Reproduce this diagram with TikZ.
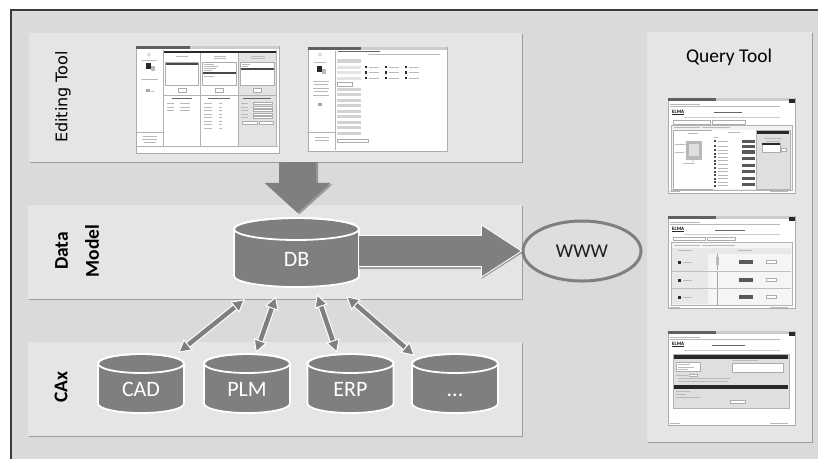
\documentclass[tikz,border=0pt]{standalone}
\usepackage{fontspec}
\setmainfont{Carlito}
\newfontfamily\verdfont{DejaVu Sans}
\usetikzlibrary{arrows.meta,calc,shadows,shapes.geometric}
\definecolor{bgc}{RGB}{218,218,218}
\definecolor{panelc}{RGB}{229,229,229}
\definecolor{framec}{RGB}{60,60,60}
\definecolor{cylc}{RGB}{127,127,127}
\definecolor{darkc}{RGB}{40,40,40}
\definecolor{wwwtext}{RGB}{30,30,30}
\tikzset{
 panel/.style={fill=panelc, inner sep=0pt, anchor=north west,
   drop shadow={shadow xshift=1.2pt, shadow yshift=-1.2pt, fill=black, opacity=0.28}},
 cylbody/.style={fill=cylc},
 cylline/.style={draw=white, line width=1.8pt},
 cylnode/.style={inner sep=0pt, draw=none},
 cyltext/.style={text=white, font=\fontsize{22}{26}\selectfont, text height=14pt, text depth=0pt, inner sep=0pt},
 biarrow/.style={draw=cylc, line width=4.4pt,
   {Triangle[width=14pt,length=13pt,color=white,fill=cylc,line width=1pt]}-{Triangle[width=14pt,length=13pt,color=white,fill=cylc,line width=1pt]}},
 biunder/.style={draw=white, line width=6.6pt, shorten <=11pt, shorten >=11pt},
 bigarrow/.style={fill=cylc},
 bigshadow/.style={fill=black, opacity=0.3},
 txl/.style={draw=gray!55, line width=0.7pt},
 txd/.style={draw=gray!80!black, line width=0.8pt},
 winb/.style={fill=white, draw=gray!65, line width=0.5pt},
 thin/.style={draw=gray!60, line width=0.4pt},
 sidelbl/.style={rotate=90, inner sep=0pt},
}
% name, cx, cy, w, h, ry, text
\newcommand\cyl[7]{%
 \pgfmathsetmacro\cxa{#2-#4/2}\pgfmathsetmacro\cxb{#2+#4/2}%
 \pgfmathsetmacro\cyt{#3-#5/2+#6}\pgfmathsetmacro\cyb{#3+#5/2-#6}%
 \pgfmathsetmacro\crx{#4/2}\pgfmathsetmacro\csh{-0.6*#6}%
 \path[cylbody,cylline] (\cxa,\cyt) -- (\cxa,\cyb)
   arc[start angle=180,end angle=360,x radius=\crx pt,y radius=#6pt]
   -- (\cxb,\cyt) arc[start angle=0,end angle=180,x radius=\crx pt,y radius=#6pt] -- cycle;
 \draw[cylline] (#2,\cyt) ellipse[x radius=\crx pt,y radius=#6pt];
 \node[cylnode, minimum width=#4pt, minimum height=#5pt,
   label={[cyltext, yshift=\csh pt]center:#7}] (#1) at (#2,#3) {};
}
% window frame with title bar
\newcommand\win[4]{%
 \draw[winb] (#1,#2) rectangle (#3,#4);
 \pgfmathsetmacro\wm{#1+(#3-#1)*0.38}%
 \fill[gray!75!black] ({#1+0.4},{#2+0.4}) rectangle (\wm,{#2+3});
 \fill[gray!40] (\wm,{#2+0.4}) rectangle ({#3-0.4},{#2+3});
}
\begin{document}
\begin{tikzpicture}[x=1pt,y=-1pt]
\useasboundingbox (0,0) rectangle (818,459);
\fill[white] (0,0) rectangle (818,459);
\fill[bgc] (11,10) rectangle (818,459);
\draw[framec, line width=1.5pt] (11,459) -- (11,10) -- (818,10);

% panels
\node[panel, minimum width=493pt, minimum height=129pt] (editp) at (29,33) {};
\node[panel, minimum width=494pt, minimum height=94pt] (datap) at (28,205) {};
\node[panel, minimum width=494pt, minimum height=94pt] (caxp) at (28,342) {};
\node[panel, minimum width=165pt, minimum height=410pt] (queryp) at (647,32) {};

% labels
\node[sidelbl, font=\verdfont\fontsize{16}{19}\selectfont] (edlbl) at (63,97) {Editing Tool};
\node[sidelbl, align=center, font=\bfseries\fontsize{19.5}{31}\selectfont] (dmlbl) at (77,251) {Data\\Model};
\node[sidelbl, font=\bfseries\fontsize{19.5}{23}\selectfont] (caxlbl) at (61,387) {CAx};
\node[font=\fontsize{19.5}{23}\selectfont, inner sep=0pt] (qlbl) at (729,57) {Query Tool};

% ---------- editing screenshot 1
\win{136}{46}{279}{153}
\fill[darkc] (163,50.5) rectangle (276,53);
\fill[gray!22] (238,53) rectangle (276,146);
\draw[thin] (163,50) -- (163,146) (200,53) -- (200,146) (238,53) -- (238,146)
  (276,50) -- (276,146) (137,146) -- (278,146) (163,95) -- (276,95) (137,132) -- (163,132);
\draw[txl] (176,56) -- (188,56) (214,56) -- (226,56) (214,58.5) -- (226,58.5)
  (251,56) -- (265,56) (251,58.5) -- (265,58.5);
\draw[winb] (165,62) rectangle (198,85) (202,62) rectangle (236,85) (240,62) rectangle (274,85);
\fill[darkc!85] (165.5,62.6) rectangle (197.5,64.6);
\fill[darkc!85] (202.5,72) rectangle (235.5,74);
\fill[darkc!85] (240.5,68) rectangle (273.5,70);
\draw[txl] (204,64.5) -- (214,64.5) (204,66.5) -- (218,66.5) (204,68.5) -- (216,68.5) (204,70.5) -- (212,70.5) (204,76) -- (214,76)
  (242,64) -- (250,64) (242,66) -- (248,66);
\draw[winb] (178,88.5) rectangle (186,92) (215,88.5) rectangle (223,92) (253,88.5) rectangle (261,92);
\draw[txd] (172,98.5) -- (192,98.5) (208,98.5) -- (230,98.5) (243,98.5) -- (271,98.5);
\foreach \yy in {103.5,107,110.5} \draw[txl] (167,\yy) -- (174,\yy) (180,\yy) -- (190,\yy);
\foreach \yy in {103.5,107,110.5,114,117.5,121,124.5,128} \draw[txl] (204,\yy) -- (212,\yy) (219,\yy) -- (222,\yy);
\foreach \yy in {103.5,107,110.5,114,117.5} {\draw[txl] (241,\yy) -- (248,\yy); \draw[winb] (253,\yy-1.2) rectangle (272,\yy+1.2);}
\draw[winb] (242,121) rectangle (257,124.5) (259,121) rectangle (273,124.5);
\draw[thin] (149,54.5) circle (1.6pt);
\draw[txl] (142,60) -- (157,60) (141,79) -- (158,79) (143,136) -- (157,136) (142,139.5) -- (157,139.5) (144,142) -- (156,142);
\fill[darkc] (146,63) rectangle (151,69);
\fill[gray!55] (151,66) rectangle (155,71);
\fill[gray!70] (146,89) rectangle (150,92);
\draw[txl] (150.5,91) -- (153.5,91);

% ---------- editing screenshot 2
\win{308}{47}{447}{151}
\draw[thin] (335,50.5) -- (335,150) (309,132) -- (335,132);
\draw[thin] (320,54.5) circle (1.6pt);
\fill[darkc] (317,66) rectangle (322,72);
\fill[gray!55] (322,69) rectangle (326,74);
\fill[gray!70] (318,103) rectangle (322,106);
\draw[txl] (314,62) -- (326,62) (313,81) -- (329,81) (314,84) -- (328,84) (313,88) -- (329,88) (314,91) -- (328,91) (313,95) -- (329,95)
  (315,137) -- (329,137) (315,140) -- (329,140);
\draw[txd] (338,51.8) -- (380,51.8);
\draw[txl] (368,54.5) -- (440,54.5);
\fill[gray!35] (337,59) rectangle (361,62.5);
\foreach \yy in {67,72.5,78} {
  \fill[gray!22] (337,\yy-1.5) rectangle (361,\yy+1.5);
  \foreach \xx in {365,385,405} {\fill[darkc] (\xx,\yy-1.2) rectangle (\xx+2,\yy+1.2); \draw[txl] (\xx+3.5,\yy) -- (\xx+14,\yy);}
}
\draw[winb] (337,82.5) rectangle (352,86);
\foreach \yy in {89,94.5,100,105.5,111,116.5,122,127.5,133} \fill[gray!35] (337,\yy-1.5) rectangle (361,\yy+1.5);
\draw[winb] (337,139) rectangle (368,142.5);

% ---------- query screenshot 1
\win{668}{98}{795}{193}
\fill[darkc] (789,98.5) rectangle (794.5,102.5);
\draw[txl] (670,104) -- (700,104) (670,106.5) -- (780,106.5);
\node[font=\bfseries\fontsize{5}{6}\selectfont, inner sep=0pt, anchor=west] (elma1) at (672,111.5) {ELMA};
\draw[darkc, line width=0.4pt] (672,114) -- (684,114);
\draw[txd] (714,112) -- (742,112);
\draw[gray!40, line width=0.5pt] (684,117) -- (780,117);
\draw[winb] (673,120.5) rectangle (710,124) (712,120.5) rectangle (745,124);
\draw[thin, fill=gray!10] (671,125.5) rectangle (792,190);
\draw[txl] (674,127.8) -- (700,127.8) (702,127.8) -- (730,127.8);
\draw[winb] (673,130) rectangle (712,189);
\draw[txl] (688,133) -- (698,133) (675,144) -- (684,144) (675,152) -- (684,152) (683,163) -- (694,163);
\fill[gray!55] (686,141) rectangle (702,160);
\fill[gray!25] (689,144) rectangle (699,156);
\draw[gray!70, line width=0.4pt] (684,144) -- (689,146) (684,152) -- (688,152) (694,163) -- (692,159);
\fill[white] (712,130) rectangle (756,189);
\draw[txl] (728,132.5) -- (740,132.5) (714,137.5) -- (718,137.5);
\foreach \yy in {141,146,150,153.5,157,160.5,164,168,171.5,175,178.5,182,185.5} {\fill[darkc!85] (714,\yy-1) rectangle (716,\yy+1); \draw[txl] (717.5,\yy) -- (728,\yy);}
\foreach \yy in {141.5,146.5,152,158.5,165.5,171.5,178.5,184.5} \fill[gray!70!black] (742,\yy-1.8) rectangle (755,\yy+1.8);
\draw[thin, fill=gray!25] (756,130) rectangle (790,189);
\fill[darkc] (757,131) rectangle (789,133.5);
\draw[txl] (764,138) -- (782,138) (766,141) -- (780,141);
\draw[winb] (762,143) rectangle (780,152);
\fill[darkc] (762.3,143.3) rectangle (779.7,145);
\draw[winb] (781,148.5) rectangle (786,151);
\draw[txl] (670,191.5) -- (680,191.5) (770,191.5) -- (788,191.5);

% ---------- query screenshot 2
\win{668}{216}{795}{308}
\fill[darkc] (789,216.5) rectangle (794.5,220.5);
\draw[txl] (670,222) -- (700,222) (670,224.5) -- (780,224.5);
\node[font=\bfseries\fontsize{5}{6}\selectfont, inner sep=0pt, anchor=west] (elma2) at (672,229) {ELMA};
\draw[darkc, line width=0.4pt] (672,231.5) -- (684,231.5);
\draw[txd] (715,230) -- (745,230);
\draw[gray!40, line width=0.5pt] (684,234.5) -- (780,234.5);
\draw[winb] (673,237.5) rectangle (705,240.5) (707,237.5) rectangle (735,240.5);
\draw[thin, fill=gray!8] (671,242) rectangle (792,305);
\draw[txl] (674,245) -- (700,245) (702,245) -- (735,245);
\fill[gray!18] (672,248) rectangle (791,253.5);
\draw[txl] (678,250.8) -- (692,250.8) (738,250.8) -- (752,250.8);
\fill[gray!18] (672,254) rectangle (708,304);
\foreach \yy in {262,280,297} {
  \fill[darkc] (678,\yy-1.5) rectangle (681,\yy+1.5);
  \draw[txl] (683,\yy) -- (692,\yy);
  \draw[gray!70, line width=0.5pt] (717,\yy-8) -- (717,\yy+8);
  \fill[gray!70!black] (739,\yy-1.6) rectangle (753,\yy+1.6);
  \draw[winb] (766,\yy-1.6) rectangle (776,\yy+1.6);
}
\fill[gray!55] (715.5,257) rectangle (718.5,265);
\draw[gray!50, line width=0.5pt] (672,271) -- (791,271) (672,288.5) -- (791,288.5);
\draw[txl] (670,307) -- (680,307) (770,307) -- (788,307);

% ---------- query screenshot 3
\win{668}{331}{795}{425}
\fill[darkc] (789,331.5) rectangle (794.5,335.5);
\draw[txl] (670,337) -- (700,337) (670,339.5) -- (780,339.5);
\node[font=\bfseries\fontsize{5}{6}\selectfont, inner sep=0pt, anchor=west] (elma3) at (672,344) {ELMA};
\draw[darkc, line width=0.4pt] (672,346.5) -- (684,346.5);
\draw[txd] (712,345) -- (745,345);
\draw[gray!40, line width=0.5pt] (684,350) -- (780,350);
\draw[thin, fill=gray!25] (673,354) rectangle (789,408);
\fill[darkc] (674,355) rectangle (788,358.5);
\draw[winb] (676,362) rectangle (700,371) (732,363) rectangle (783,372);
\draw[txl] (678,364.5) -- (690,364.5) (678,367) -- (694,367) (678,369.5) -- (688,369.5) (732,360.8) -- (758,360.8)
  (676,375) -- (688,375) (678,378.5) -- (730,378.5) (678,381.5) -- (728,381.5)
  (676,391.5) -- (690,391.5) (676,394.5) -- (686,394.5) (676,397.5) -- (700,397.5);
\draw[winb] (689,373.8) rectangle (697,376.2);
\fill[darkc] (674,385) rectangle (788,388.5);
\draw[winb] (730,400) rectangle (745,403.5);
\draw[txl] (670,423) -- (680,423) (770,423) -- (788,423);

% ---------- data model
\cyl{db}{296.5}{252.5}{125}{69}{11}{DB}
\node[ellipse, draw=cylc, line width=3pt, fill=panelc!97!black, minimum width=118pt, minimum height=60pt,
  font=\fontsize{19.5}{23}\selectfont, text=wwwtext] (www) at (582,251) {WWW};

% right block arrow DB -> WWW
\coordinate (rtip) at (www.west);
\coordinate (rbase) at (db.east |- rtip);
\fill[bigshadow] ($(rbase)+(0,-14)$) -- ($(rtip)+(-40,-14)$) -- ($(rtip)+(-40,-25)$) -- ($(rtip)+(1.5,1.5)$)
  -- ($(rtip)+(-40,28)$) -- ($(rtip)+(-40,18)$) -- ($(rbase)+(0,18)$) -- cycle;
\fill[bigarrow] ($(rbase)+(0,-15.5)$) -- ($(rtip)+(-40,-15.5)$) -- ($(rtip)+(-40,-26)$) -- (rtip)
  -- ($(rtip)+(-40,26)$) -- ($(rtip)+(-40,15.5)$) -- ($(rbase)+(0,15.5)$) -- cycle;
\draw[white, line width=0.8pt, line join=miter] ($(rbase)+(0,-15.5)$) -- ($(rtip)+(-40,-15.5)$) -- ($(rtip)+(-40,-26)$) -- (rtip)
  -- ($(rtip)+(-40,26)$) -- ($(rtip)+(-40,15.5)$) -- ($(rbase)+(0,15.5)$);

% down block arrow Editing Tool -> DB
\coordinate (dtip) at ($(db.north)+(1,-5)$);
\coordinate (dtop) at (editp.south -| dtip);
\fill[bigshadow] ($(dtop)+(-16,0)$) -- ($(dtip)+(-16,-28.5)$) -- ($(dtip)+(-31,-28.5)$) -- ($(dtip)+(2,1.5)$)
  -- ($(dtip)+(35,-28.5)$) -- ($(dtip)+(20.5,-28.5)$) -- ($(dtop)+(20.5,0)$) -- cycle;
\fill[bigarrow] ($(dtop)+(-18.5,0)$) -- ($(dtip)+(-18.5,-30)$) -- ($(dtip)+(-33,-30)$) -- (dtip)
  -- ($(dtip)+(33,-30)$) -- ($(dtip)+(18.5,-30)$) -- ($(dtop)+(18.5,0)$) -- cycle;

% ---------- CAx
\cyl{cad}{141}{383.5}{86}{59}{9.5}{CAD}
\cyl{plm}{247}{383.5}{86}{59}{9.5}{PLM}
\cyl{erp}{350.5}{383.5}{86}{59}{9.5}{ERP}
\cyl{etc}{455}{383.5}{86}{59}{9.5}{...}

% bidirectional connectors
\coordinate (c1a) at ($(cad.north east)+(-6,-1)$);
\coordinate (c1b) at ($(db.south west)+(11,12)$);
\coordinate (c2a) at ($(plm.north)+(9,-1)$);
\coordinate (c2b) at ($(db.south)+(-20.5,9)$);
\coordinate (c3a) at ($(erp.north)+(-13.5,-1)$);
\coordinate (c3b) at ($(db.south)+(20.5,7)$);
\coordinate (c4a) at ($(etc.north west)+(3,2)$);
\coordinate (c4b) at ($(db.south east)+(-13,9)$);
\foreach \p in {1,2,3,4} {
  \draw[biunder] (c\p a) -- (c\p b);
  \draw[biarrow] (c\p a) -- (c\p b);
}
\end{tikzpicture}
\end{document}
